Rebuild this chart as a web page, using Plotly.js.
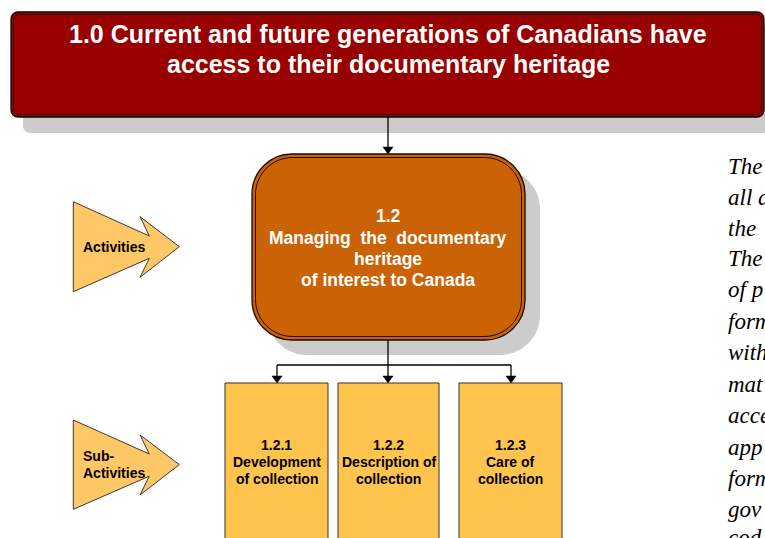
<!DOCTYPE html>
<html><head><meta charset="utf-8">
<script src="https://cdn.plot.ly/plotly-3.0.1.min.js"></script>
<style>html,body{margin:0;padding:0;overflow:hidden;background:#fff}</style>
</head><body><div id="chart" style="width:765px;height:538px"></div>
<script>
// ---- content ----
const outcomeLines = ["1.0 Current and future generations of Canadians have", "access to their documentary heritage"];
const activityLines = ["1.2", "Managing\u00A0 the\u00A0 documentary", "heritage", "of interest to Canada"];
const subActivityCodes = ["1.2.1", "1.2.2", "1.2.3"];
const subActivityNames = [["Development", "of collection"], ["Description of", "collection"], ["Care of", "collection"]];
const activitiesLabel = ["Activities"];
const subActivitiesLabel = ["Sub-", "Activities"];
const sideTextLines = ["The", "all a", "the", "The", "of p", "form", "with", "mat", "acce", "app", "form", "gov", "cod"];

// ---- geometry / styles ----
const W = 765, H = 538;
const SANS = "Liberation Sans, Arial, sans-serif";
const K = 0.5523;
function rr(x0, y0, x1, y1, r) {
  const k = K * r;
  return `M${x0 + r},${y0} L${x1 - r},${y0} C${x1 - r + k},${y0} ${x1},${y0 + r - k} ${x1},${y0 + r} ` +
    `L${x1},${y1 - r} C${x1},${y1 - r + k} ${x1 - r + k},${y1} ${x1 - r},${y1} ` +
    `L${x0 + r},${y1} C${x0 + r - k},${y1} ${x0},${y1 - r + k} ${x0},${y1 - r} ` +
    `L${x0},${y0 + r} C${x0},${y0 + r - k} ${x0 + r - k},${y0} ${x0 + r},${y0} Z`;
}
function poly(pts) { return "M" + pts.map(p => p[0] + "," + p[1]).join(" L") + " Z"; }

const shapes = [];
const anns = [];
function path(p, fill, lc, lw) {
  shapes.push({type: "path", xref: "x", yref: "y", path: p, fillcolor: fill, line: {color: lc || "rgba(0,0,0,0)", width: lw || 0}, layer: "above"});
}
function line(x0, y0, x1, y1) {
  shapes.push({type: "line", xref: "x", yref: "y", x0, y0, x1, y1, line: {color: "#000", width: 1.3}, layer: "above"});
}
function arrowDown(x, y0, y1) {
  line(x, y0, x, y1 - 6);
  path(poly([[x - 5, y1 - 7], [x + 5, y1 - 7], [x, y1]]), "#000", "#000", 0.5);
}
function text(t, x, y, size, color, opts) {
  anns.push(Object.assign({xref: "x", yref: "y", x, y, text: t, showarrow: false, xanchor: "center", yanchor: "middle",
    font: {family: SANS, size, color, weight: "bold"}}, opts || {}));
}

// top outcome box
path(rr(23, 27, 790, 133, 7), "#cccccc");
path(rr(11, 12, 764, 117, 7), "#990000", "#1a0000", 1.3);
path(rr(13.5, 14.5, 761.5, 114.5, 5), "rgba(0,0,0,0)", "#1a0000", 1);
text(outcomeLines[0], 388, 34, 25, "#ffffff");
text(outcomeLines[1], 388, 64, 25, "#ffffff");

// connector top -> activity
arrowDown(388, 117, 154);

// activity box
path(rr(267, 169, 540, 355, 40), "#cccccc");
path(rr(252, 154, 525, 340, 40), "#cc6206", "#1a0a00", 1.3);
path(rr(255.5, 157.5, 521.5, 336.5, 37), "rgba(0,0,0,0)", "#1a0a00", 1);
const actY = [216, 238, 259, 280];
activityLines.forEach((t, i) => text(t, 388, actY[i], 17.5, "#ffffff"));

// connectors activity -> sub-activities
const subCx = [277, 388, 511];
line(388, 340, 388, 365);
line(subCx[0], 365, subCx[2], 365);
subCx.forEach(x => arrowDown(x, 365, 383));

// sub-activity boxes
const subX = [[225, 328], [338, 439], [459, 562]];
subX.forEach((b, i) => {
  path(poly([[b[0], 383], [b[1], 383], [b[1], 560], [b[0], 560]]), "#ffc44d", "#333333", 1);
  const cx = (b[0] + b[1]) / 2;
  text(subActivityCodes[i], cx, 445, 14, "#000000");
  text(subActivityNames[i][0], cx, 462, 14, "#000000");
  text(subActivityNames[i][1], cx, 479, 14, "#000000");
});

// side arrows
function sideArrow(top, bot) {
  const mid = (top + bot) / 2, h = bot - top;
  const s = h / 90;
  path(poly([[73.3, top], [149.3, mid - 10.7 * s], [140, mid - 30 * s], [179.3, mid], [140, mid + 30.6 * s], [149.3, mid + 11.6 * s], [73.3, bot]]),
    "#ffc766", "#3a3a3a", 1);
}
sideArrow(201.7, 291.7);
sideArrow(420, 509.3);
text(activitiesLabel[0], 81, 247, 14, "#000000", {xanchor: "left"});
text(subActivitiesLabel[0], 81, 456, 14, "#000000", {xanchor: "left"});
text(subActivitiesLabel[1], 81, 473, 14, "#000000", {xanchor: "left"});

// right-hand italic text (cut off by page edge as in the reference)
const sideY = [166, 197, 228, 258, 289, 321, 352, 384, 415, 447, 478, 509, 537];
sideTextLines.forEach((t, i) => anns.push({xref: "x", yref: "y", x: 726, y: sideY[i], text: t, showarrow: false,
  xanchor: "left", yanchor: "middle", font: {family: "Liberation Serif, Times New Roman, serif", size: 23, color: "#000", style: "italic"}}));

const layout = {
  width: W, height: H, margin: {l: 0, r: 0, t: 0, b: 0},
  paper_bgcolor: "#ffffff", plot_bgcolor: "#ffffff",
  xaxis: {range: [0, W], visible: false, fixedrange: true},
  yaxis: {range: [H, 0], visible: false, fixedrange: true},
  shapes, annotations: anns, showlegend: false
};
Plotly.newPlot("chart", [{x: [], y: [], type: "scatter", hoverinfo: "skip"}], layout, {staticPlot: true, displayModeBar: false});
</script></body></html>
